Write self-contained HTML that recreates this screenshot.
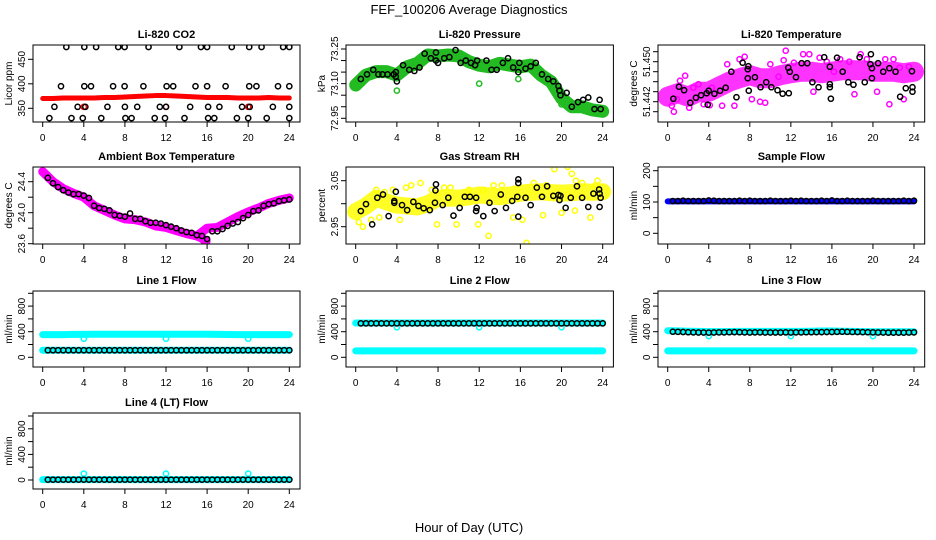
<!DOCTYPE html>
<html><head><meta charset="utf-8"><title>FEF_100206 Average Diagnostics</title>
<style>
html,body{margin:0;padding:0;background:#fff;}
svg{display:block;font-family:"Liberation Sans",sans-serif;}
</style></head>
<body>
<svg id="chart" width="936" height="540" viewBox="0 0 936 540" xmlns="http://www.w3.org/2000/svg">
<text x="469" y="14" text-anchor="middle" font-size="13">FEF_100206  Average Diagnostics</text>
<text x="469" y="532" text-anchor="middle" font-size="13">Hour of Day (UTC)</text>
</svg>
<script>
// ---------- data ----------
const hours25 = [0,1,2,3,4,5,6,7,8,9,10,11,12,13,14,15,16,17,18,19,20,21,22,23,24];
const halfHours = [0.5,1,1.5,2,2.5,3,3.5,4,4.5,5,5.5,6,6.5,7,7.5,8,8.5,9,9.5,10,10.5,11,11.5,12,12.5,13,13.5,14,14.5,15,15.5,16,16.5,17,17.5,18,18.5,19,19.5,20,20.5,21,21.5,22,22.5,23,23.5,24];
const xTicks = [0,4,8,12,16,20,24];

// Li-820 CO2
const co2Band = [370,370,371,371,371,371,372,372,373,374,375,376,376,375,374,373,372,372,372,371,371,371,372,371,371];
const co2PtHours = [2.3,4.05,5.2,7.35,7.97,10.3,13.3,15.4,16.0,18.4,20.1,21.3,23.4,24.0,
 1.78,4.05,4.7,6.85,7.97,9.8,12.06,12.7,14.87,16.0,17.8,20.1,20.8,22.9,24.0,
 1.14,3.4,4.15,6.3,8.0,9.2,11.4,12.0,14.35,16.1,17.2,19.4,20.15,22.4,24.0,
 0.65,2.8,3.9,5.7,8.05,8.65,10.9,11.9,13.8,16.1,16.7,18.9,20.0,21.8,24.0];
const co2PtVals = [475,475,475,475,475,475,475,475,475,475,475,475,475,475,
 395,395,395,395,395,395,395,395,395,395,395,395,395,395,395,
 353,353,353,353,353,353,353,353,353,353,353,353,353,353,353,
 330,330,330,330,330,330,330,330,330,330,330,330,330,330,330];
const co2RedHours = [4,12,20];
const co2RedVals = [353,353,353];

// Li-820 Pressure
const presBand = [73.094,73.137,73.152,73.152,73.137,73.173,73.188,73.224,73.22,73.224,73.22,73.195,73.18,73.173,73.188,73.18,73.173,73.18,73.137,73.108,73.037,73.0,73.0,72.986,72.98];
const presPtHours = [0.5,1.1,1.7,2.2,2.6,3.1,3.7,3.9,3.9,4.0,4.6,5.2,5.7,6.2,6.7,7.3,7.8,7.8,8.0,8.6,9.1,9.7,10.2,10.7,11.2,11.6,11.8,12.7,13.2,13.7,14.3,14.8,15.3,15.8,15.9,16.5,17.0,17.5,18.1,18.7,19.2,19.7,19.8,19.9,20.5,21.0,21.6,22.1,22.6,23.2,23.7,23.8];
const presPtVals = [73.12,73.14,73.16,73.14,73.14,73.14,73.14,73.15,73.13,73.11,73.18,73.16,73.155,73.17,73.23,73.21,73.235,73.2,73.19,73.21,73.215,73.245,73.19,73.2,73.19,73.18,73.2,73.2,73.16,73.16,73.19,73.21,73.17,73.15,73.19,73.165,73.175,73.19,73.14,73.12,73.11,73.09,73.07,73.05,73.06,73.0,73.02,73.03,73.04,72.99,73.03,72.99];

// Li-820 Temperature
const tempBand = [51.443,51.4437,51.443,51.444,51.444,51.445,51.446,51.4467,51.4473,51.4467,51.4467,51.4473,51.4477,51.448,51.448,51.4477,51.448,51.4483,51.4483,51.4483,51.448,51.448,51.448,51.4477,51.448];
const tempPtHours = [0.55,1.1,1.6,2.2,2.75,3.25,3.8,3.9,4.0,4.55,5.1,5.65,6.2,6.7,7.3,7.8,7.8,7.86,7.9,8.5,9.05,9.6,10.1,10.7,11.2,11.75,11.8,11.9,12.5,13.05,13.6,14.1,14.7,15.25,15.8,15.8,15.8,15.9,16.5,17.05,17.6,18.1,18.7,19.2,19.75,19.8,19.9,19.9,20.5,21.0,21.6,22.2,22.65,23.2,23.8,23.85,23.85];
const tempPtVals = [51.4426,51.445,51.4443,51.4418,51.4428,51.4433,51.4437,51.4414,51.4442,51.4436,51.4442,51.4448,51.448,51.4429,51.4498,51.4485,51.4467,51.4491,51.4442,51.4469,51.4449,51.4459,51.4449,51.4443,51.4436,51.4488,51.4437,51.448,51.4469,51.4497,51.4497,51.4459,51.4449,51.4509,51.4455,51.449,51.4449,51.4426,51.4508,51.448,51.4459,51.4454,51.4509,51.4459,51.4495,51.4515,51.4467,51.4487,51.4497,51.448,51.4487,51.448,51.443,51.4447,51.4481,51.4449,51.444];
const tempScatHours = [0.4,0.6,0.9,1.2,1.7,2.1,2.5,3.0,3.5,4.1,4.3,5.3,5.8,6.5,7.0,7.5,8.2,9.0,9.5,10.0,10.8,11.3,11.5,12.3,13.2,13.8,14.2,14.8,15.5,16.2,16.8,17.7,18.2,18.8,19.4,20.4,21.2,21.6,22.0,22.6,23.0,23.5];
const tempScatVals = [51.4412,51.4400,51.4425,51.4462,51.4472,51.4408,51.4448,51.4455,51.4415,51.4413,51.4448,51.4412,51.4495,51.4412,51.4505,51.4510,51.4425,51.4420,51.4418,51.4495,51.4470,51.4503,51.4522,51.4498,51.4515,51.4515,51.4440,51.4508,51.4500,51.4480,51.4505,51.4500,51.4435,51.4515,51.4505,51.4440,51.4505,51.4415,51.4505,51.4488,51.4425,51.4490];

// Ambient Box Temperature
const ambBand = [24.53,24.4,24.31,24.25,24.2,24.09,24.03,23.97,23.92,23.91,23.88,23.83,23.81,23.77,23.73,23.70,23.80,23.81,23.88,23.95,24.01,24.06,24.12,24.16,24.19];
const ambDipHours = [15,15.5,15.9];
const ambDipVals = [23.70,23.67,23.63];
const ambPtVals = [24.45,24.38,24.33,24.29,24.26,24.24,24.24,24.22,24.19,24.09,24.06,24.05,24.03,23.97,23.96,23.95,23.99,23.92,23.92,23.89,23.87,23.87,23.86,23.84,23.82,23.80,23.77,23.75,23.74,23.71,23.70,23.66,23.76,23.76,23.79,23.83,23.86,23.88,23.93,23.97,24.02,24.03,24.09,24.11,24.12,24.15,24.16,24.17];

// Gas Stream RH
const rhBand = [2.983,2.995,3.012,3.004,2.997,2.995,2.993,3.0,3.012,3.012,3.012,3.015,3.019,3.017,3.015,3.019,3.023,3.025,3.026,3.024,3.023,3.024,3.026,3.025,3.026];
const rhPtHours = [0.5,1.0,1.6,2.1,2.65,3.2,3.75,3.75,3.9,4.5,5.0,5.6,6.1,6.6,7.2,7.7,7.75,7.8,8.45,9.0,9.5,10.1,10.6,11.1,11.7,11.75,11.7,12.4,13.0,13.5,14.1,14.6,15.2,15.7,15.8,15.8,15.8,16.5,17.0,17.6,18.1,18.6,19.2,19.7,19.8,19.9,20.4,20.9,21.5,22.0,22.6,23.1,23.65,23.7,23.8,23.7];
const rhPtVals = [2.984,2.999,2.955,3.013,3.02,2.973,3.006,3.002,3.026,2.997,2.986,3.004,2.995,2.99,2.986,3.002,3.029,3.042,2.997,3.013,2.974,2.991,3.015,3.015,3.013,2.991,2.984,2.973,3.002,2.984,3.02,2.991,3.006,3.015,3.045,3.053,2.972,3.013,2.997,3.035,3.015,3.038,3.017,3.019,3.008,3.017,2.991,3.013,3.038,3.013,2.993,3.022,3.031,2.993,3.013,3.022];
const rhScatHours = [0.3,0.7,1.5,2.3,2.8,3.6,4.3,5.4,6.3,7.4,7.9,9.2,9.8,11.0,11.9,12.4,12.9,14.2,15.3,16.2,16.6,17.3,18.2,18.5,19.3,20.0,20.6,21.0,21.4,22.0,22.8,23.3,23.5,21.3,2.0,4.9,8.6,13.4];
const rhScatVals = [2.96,2.95,2.965,2.97,3.025,3.03,2.965,3.04,3.045,3.03,2.955,3.035,2.955,3.03,2.955,3.03,2.93,3.04,2.97,2.965,2.915,3.045,2.975,3.04,3.075,2.98,3.08,3.065,3.05,3.045,2.97,3.04,3.05,2.985,3.03,3.035,3.035,3.04];

// Sample Flow
const sampBand = [102,102,102,102,102,102,102,102,102,102,102,102,102,102,102,102,102,102,102,102,102,102,102,102,102];
const sampPtVals = [103,103,104,103,103,103,103,105,104,103,103,103,103,104,103,104,103,103,103,104,103,103,103,104,103,104,103,103,103,104,103,105,103,103,104,103,103,103,103,104,103,103,103,103,103,104,103,104];

// Line flows
const l1Upper = [355,355,355,358,358,360,360,360,360,360,360,360,360,360,360,360,360,358,356,355,355,355,355,355,355];
const l1Lower = [110,110,110,110,110,110,110,110,110,110,110,110,110,110,110,110,110,110,110,110,110,110,110,110,110];
const l1Black = [110,110,110,110,110,110,110,110,110,110,110,110,110,110,110,110,110,110,110,110,110,110,110,110,110,110,110,110,110,110,110,110,110,110,110,110,110,110,110,110,110,110,110,110,110,110,110,110];
const l2Upper = [535,535,535,535,535,535,535,535,535,535,535,535,535,535,535,535,535,535,535,535,535,535,535,535,535];
const l2Lower = [100,100,100,100,100,100,100,100,100,100,100,100,100,100,100,100,100,100,100,100,100,100,100,100,100];
const l2Black = [530,530,530,530,530,530,530,530,530,530,530,530,530,530,530,530,530,530,530,530,530,530,530,530,530,530,530,530,530,530,530,530,530,530,530,530,530,530,530,530,530,530,530,530,530,530,530,530];
const l3Upper = [415,412,408,405,402,402,403,405,405,405,405,405,405,405,408,410,410,408,405,402,400,400,400,400,400];
const l3Lower = [100,100,100,100,100,100,100,100,100,100,100,100,100,100,100,100,100,100,100,100,100,100,100,100,100];
const l3Black = [400,398,395,392,390,388,388,385,387,390,390,392,393,392,390,388,390,390,388,388,388,388,390,388,390,390,392,392,393,393,395,395,398,400,398,396,395,393,392,390,388,388,386,385,385,385,388,390];
const l4Band = [5,5,5,5,5,5,5,5,5,5,5,5,5,5,5,5,5,5,5,5,5,5,5,5,5];
const l4Black = [5,5,5,5,5,5,5,5,5,5,5,5,5,5,5,5,5,5,5,5,5,5,5,5,5,5,5,5,5,5,5,5,5,5,5,5,5,5,5,5,5,5,5,5,5,5,5,5];
const spikeHours = [4,12,20];
const l1Spike = [290,290,290];
const l2Spike = [470,470,470];
const l3Spike = [330,330,330];
const l4Spike = [100,100,100];

// ---------- drawing ----------
const NS = "http://www.w3.org/2000/svg";
const svg = document.getElementById('chart');
function el(tag, parent){ const e=document.createElementNS(NS,tag); parent.appendChild(e); return e; }

const colX0 = [42.7, 355.7, 667.7];
const colX24 = [289.3, 602.7, 914.0];
const rows = [[45,122],[167,244],[291,367],[413,489]];

function makePanel(col,row,title,ylab,v1,p1,v2,p2,yTicks,yLabels,name){
  const x0=colX0[col], x24=colX24[col];
  const xs = h => x0 + (x24-x0)*h/24;
  const ys = v => p1 + (v-v1)*(p2-p1)/(v2-v1);
  const l = x0-9.7, r = x24+10.7, t = rows[row][0], b = rows[row][1];
  const g = el('g', svg);
  
  
  const cp = el('clipPath', g); cp.setAttribute('id','clip-'+name);
  const cr = el('rect', cp); cr.setAttribute('x',l); cr.setAttribute('y',t); cr.setAttribute('width',r-l); cr.setAttribute('height',b-t);
  const tt = el('text', g);
  
  
  tt.setAttribute('x',(l+r)/2); tt.setAttribute('y',t-7); tt.setAttribute('text-anchor','middle');
  tt.setAttribute('font-size','11'); tt.setAttribute('font-weight','bold'); tt.textContent=title;
  const plot = el('g', g);
  
  
  plot.setAttribute('clip-path','url(#clip-'+name+')');
  const box = el('rect', g);
  
  
  box.setAttribute('x',l); box.setAttribute('y',t); box.setAttribute('width',r-l); box.setAttribute('height',b-t);
  box.setAttribute('fill','none'); box.setAttribute('stroke','#000'); box.setAttribute('stroke-width','1');
  const xa = el('g', g);
  
  
  xTicks.forEach(h=>{
    const ln = el('line', xa); ln.setAttribute('x1',xs(h)); ln.setAttribute('x2',xs(h)); ln.setAttribute('y1',b); ln.setAttribute('y2',b+5); ln.setAttribute('stroke','#000');
    const tx = el('text', xa);
    
    
    tx.setAttribute('x',xs(h)); tx.setAttribute('y',b+19); tx.setAttribute('text-anchor','middle'); tx.setAttribute('font-size','10'); tx.textContent=h;
  });
  const xl = el('line', xa); xl.setAttribute('x1',xs(0)); xl.setAttribute('x2',xs(24)); xl.setAttribute('y1',b); xl.setAttribute('y2',b); xl.setAttribute('stroke','#000');
  const ya = el('g', g);
  
  
  yTicks.forEach(v=>{
    const ln = el('line', ya); ln.setAttribute('x1',l-5); ln.setAttribute('x2',l); ln.setAttribute('y1',ys(v)); ln.setAttribute('y2',ys(v)); ln.setAttribute('stroke','#000');
  });
  yLabels.forEach(([v,txt])=>{
    const tx = el('text', ya);
    
    
    tx.setAttribute('transform','translate('+(l-8)+','+ys(v)+') rotate(-90)');
    tx.setAttribute('text-anchor','middle'); tx.setAttribute('font-size','10'); tx.textContent=txt;
  });
  const yt = el('text', g);
  
  
  yt.setAttribute('transform','translate('+(l-21)+','+((t+b)/2)+') rotate(-90)');
  yt.setAttribute('text-anchor','middle'); yt.setAttribute('font-size','10'); yt.textContent=ylab;
  return {xs,ys,plot};
}

function band(P,hrs,vals,color,w,op,nm){
  const pl = el('polyline', P.plot);
  
  
  pl.setAttribute('points', hrs.map((h,i)=>P.xs(h)+','+P.ys(vals[i])).join(' '));
  pl.setAttribute('fill','none'); pl.setAttribute('stroke',color); pl.setAttribute('stroke-width',w);
  pl.setAttribute('stroke-linecap','round'); pl.setAttribute('stroke-linejoin','round');
  if(op<1) pl.setAttribute('stroke-opacity',op);
}
function pts(P,hrs,vals,color,nm,sw){
  hrs.forEach((h,i)=>{
    const c = el('circle', P.plot);
    
    
    c.setAttribute('cx',P.xs(h)); c.setAttribute('cy',P.ys(vals[i])); c.setAttribute('r','2.6');
    c.setAttribute('fill','none'); c.setAttribute('stroke',color); c.setAttribute('stroke-width',sw||1.5);
  });
}

let P = makePanel(0,0,'Li-820 CO2','Licor ppm',350,108.3,450,59.3,[350,400,450],[[350,'350'],[400,'400'],[450,'450']],'co2');
band(P,hours25,co2Band,'#ff0000',5,1,'co2-band');
pts(P,co2RedHours,co2RedVals,'#ff0000','co2-red-point');
pts(P,co2PtHours,co2PtVals,'#000','co2-hourly-point');

P = makePanel(1,0,'Li-820 Pressure','kPa',73.25,49,72.95,118.3,[72.95,73.0,73.05,73.1,73.15,73.2,73.25],[[73.25,'73.25'],[73.1,'73.10'],[72.95,'72.95']],'pressure');
band(P,hours25,presBand,'#22bb22',13,1,'pressure-band');
pts(P,[4,12,20,15.8],[73.07,73.1,73.01,73.12],'#22bb22','pressure-green-point');
pts(P,presPtHours,presPtVals,'#000','pressure-hourly-point');

P = makePanel(2,0,'Li-820 Temperature','degrees C',51.452,51.7,51.440,111.7,[51.440,51.442,51.444,51.446,51.448,51.450,51.452],[[51.450,'51.450'],[51.442,'51.442']],'li820-temp');
band(P,hours25,tempBand,'#ff00ff',20,0.8,'li820-temp-band');
pts(P,tempScatHours,tempScatVals,'#ff00ff','li820-temp-scatter-point');
pts(P,tempPtHours,tempPtVals,'#000','li820-temp-hourly-point');

P = makePanel(0,1,'Ambient Box Temperature','degrees C',24.4,181.7,24.0,212.7,[23.6,23.8,24.0,24.2,24.4],[[23.6,'23.6'],[24.0,'24.0'],[24.4,'24.4']],'ambient-temp');
band(P,hours25,ambBand,'#ff00ff',9,1,'ambient-temp-band');
band(P,ambDipHours,ambDipVals,'#ff00ff',9,1,'ambient-temp-dip');
pts(P,halfHours,ambPtVals,'#000','ambient-temp-hourly-point');

P = makePanel(1,1,'Gas Stream RH','percent',3.05,180.7,2.95,226.7,[2.95,3.0,3.05],[[2.95,'2.95'],[3.05,'3.05']],'gas-rh');
band(P,hours25,rhBand,'#ffff00',17,0.85,'gas-rh-band');
pts(P,rhScatHours,rhScatVals,'#ffff00','gas-rh-scatter-point');
pts(P,rhPtHours,rhPtVals,'#000','gas-rh-hourly-point');

P = makePanel(2,1,'Sample Flow','ml/min',200,170.7,0,233.3,[0,50,100,150,200],[[0,'0'],[100,'100'],[200,'200']],'sample-flow');
band(P,hours25,sampBand,'#0000ff',6,1,'sample-flow-band');
pts(P,halfHours,sampPtVals,'#000','sample-flow-hourly-point');

const flowTicks=[0,200,400,600,800,1000];
const flowLabels=[[0,'0'],[400,'400'],[800,'800']];
P = makePanel(0,2,'Line 1 Flow','ml/min',0,357.3,1000,293.3,flowTicks,flowLabels,'line1-flow');
band(P,hours25,l1Upper,'#00ffff',7,1,'line1-upper-band');
band(P,hours25,l1Lower,'#00ffff',7,1,'line1-lower-band');
pts(P,spikeHours,l1Spike,'#00ffff','line1-spike-point');
pts(P,halfHours,l1Black,'#000','line1-hourly-point');
P = makePanel(1,2,'Line 2 Flow','ml/min',0,357.3,1000,293.3,flowTicks,flowLabels,'line2-flow');
band(P,hours25,l2Upper,'#00ffff',7,1,'line2-upper-band');
band(P,hours25,l2Lower,'#00ffff',7,1,'line2-lower-band');
pts(P,spikeHours,l2Spike,'#00ffff','line2-spike-point');
pts(P,halfHours,l2Black,'#000','line2-hourly-point');
P = makePanel(2,2,'Line 3 Flow','ml/min',0,357.3,1000,293.3,flowTicks,flowLabels,'line3-flow');
band(P,hours25,l3Upper,'#00ffff',7,1,'line3-upper-band');
band(P,hours25,l3Lower,'#00ffff',7,1,'line3-lower-band');
pts(P,spikeHours,l3Spike,'#00ffff','line3-spike-point');
pts(P,halfHours,l3Black,'#000','line3-hourly-point');
P = makePanel(0,3,'Line 4 (LT) Flow','ml/min',0,480,1000,416,flowTicks,flowLabels,'line4-flow');
band(P,hours25,l4Band,'#00ffff',7,1,'line4-band');
pts(P,spikeHours,l4Spike,'#00ffff','line4-spike-point');
pts(P,halfHours,l4Black,'#000','line4-hourly-point');
</script>
</body></html>
